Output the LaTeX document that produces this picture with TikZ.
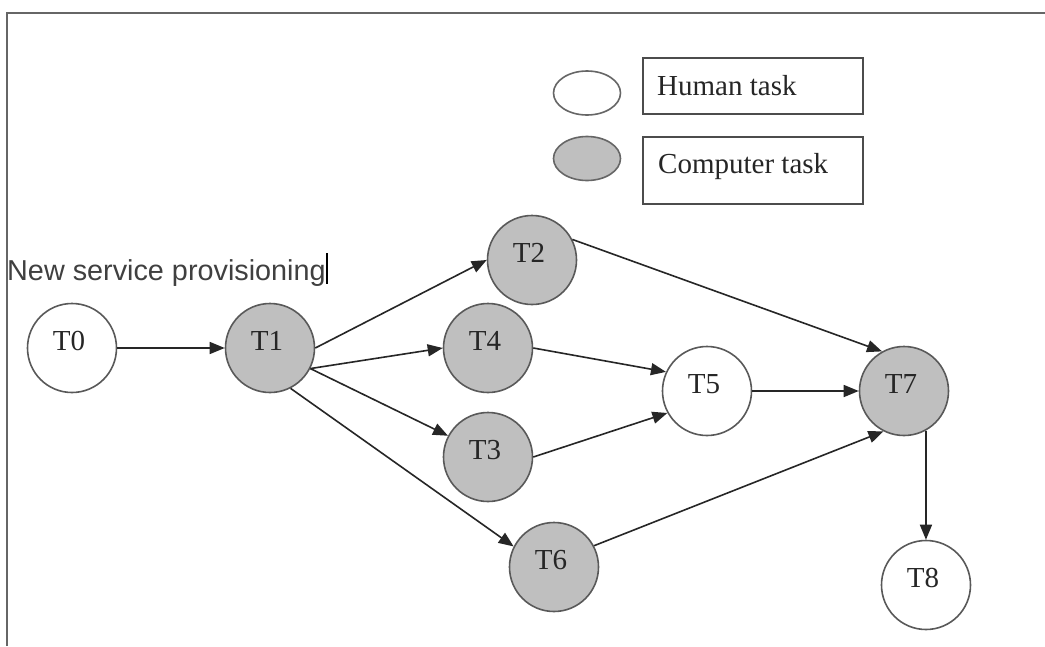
\documentclass[tikz,border=0pt]{standalone}
\usepackage{fontspec}
\setmainfont{Liberation Serif}
\newfontfamily\arialfont{Liberation Sans}
\usetikzlibrary{arrows.meta,shapes.geometric}

\begin{document}
\begin{tikzpicture}[x=1pt,y=-1pt,
  task/.style={circle, draw=black!65, line width=1.6pt, minimum size=89pt, inner sep=0pt},
  human/.style={task, fill=white},
  comp/.style={task, fill=black!25},
  tlabel/.style={font=\fontsize{29}{34}\selectfont, text=black!85, inner sep=0pt, xshift=-3pt, yshift=7pt},
  flow/.style={draw=black!85, line width=1.6pt, -{Triangle[length=15pt,width=12pt]}},
  keyshape/.style={ellipse, draw=black!60, line width=1.6pt, minimum width=67pt, minimum height=44pt, inner sep=0pt},
  keybox/.style={draw=black!70, line width=1.6pt, fill=white, minimum width=220pt, anchor=north west, inner sep=0pt},
  keytext/.style={anchor=base west, inner sep=0pt, font=\fontsize{29}{34}\selectfont, text=black!85},
]
\useasboundingbox (0,0) rectangle (1045,646);
\fill[white] (0,0) rectangle (1045,646);

% page frame
\draw[black!60, line width=2.2pt] (7,646) -- (7,13) -- (1045,13);

% legend
\node[keyshape, fill=white]    (keyhuman) at (587,93) {};
\node[keyshape, fill=black!25] (keycomp)  at (587,158.5) {};
\node[keybox, minimum height=56pt] (keyhumanbox) at (642,57) {};
\node[keybox, minimum height=67pt] (keycompbox)  at (642,136) {};
\node[keytext] (keyhumantext) at (657,95)  {Human task};
\node[keytext] (keycomptext)  at (658,173) {Computer task};

% title with text cursor
\node[anchor=base west, inner sep=0pt, font=\arialfont\fontsize{28.8}{34}\selectfont, text=black!75]
  (title) at (7,280) {New service provisioning};
\draw[black, line width=2pt] (327,253) -- (327,284);

% tasks
\node[human] (t0) at (72,348)  [label={[tlabel]center:T0}] {};
\node[comp]  (t1) at (270,348) [label={[tlabel]center:T1}] {};
\node[comp]  (t2) at (532,260) [label={[tlabel]center:T2}] {};
\node[comp]  (t4) at (488,348) [label={[tlabel]center:T4}] {};
\node[comp]  (t3) at (488,457) [label={[tlabel]center:T3}] {};
\node[comp]  (t6) at (554,567) [label={[tlabel]center:T6}] {};
\node[human] (t5) at (707,391) [label={[tlabel]center:T5}] {};
\node[comp]  (t7) at (904,391) [label={[tlabel]center:T7}] {};
\node[human] (t8) at (926,585) [label={[tlabel]center:T8}] {};

% flows
\draw[flow] (t0.east) -- (t1.west);
\draw[flow] (t1.east) -- (t2.west);
\draw[flow] (t1.-27) -- (t4.west);
\draw[flow] (t1.-27) -- (t3.152);
\draw[flow] (t1.-63) -- (t6.153);
\draw[flow] (t2.27) -- (t7.119);
\draw[flow] (t4.east) -- (t5.155);
\draw[flow] (t3.east) -- (t5.209);
\draw[flow] (t5.east) -- (t7.west);
\draw[flow] (t6.28) -- (t7.243);
\draw[flow] (t7.-61) -- (t7.-61 |- t8.north);
\end{tikzpicture}
\end{document}
